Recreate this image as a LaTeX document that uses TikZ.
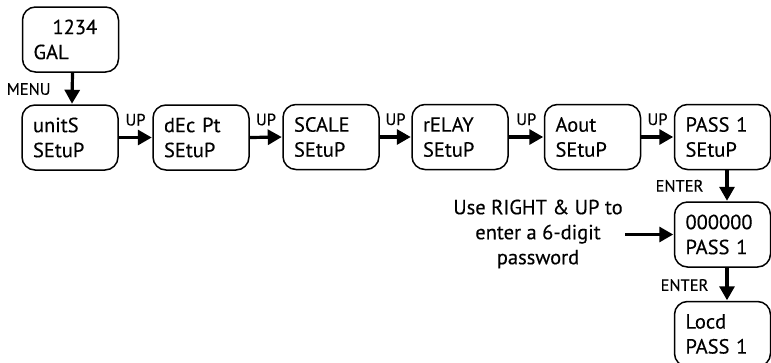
\documentclass[tikz,border=0pt]{standalone}
\usepackage{fontspec}
\setmainfont{PT Sans}[FakeBold=0.35]
\usetikzlibrary{arrows.meta}
\tikzset{
  disp/.style={draw=black, line width=1.5pt, rounded corners=13pt, minimum width=96pt, minimum height=65pt, text width=74pt, align=left, inner sep=0pt, font=\fontsize{20.5}{25}\selectfont},
  arr/.style={line width=3.2pt, -{Triangle[length=14pt,width=15pt]}, shorten >=0.5pt},
  lbl/.style={font=\fontsize{16.5}{18}\selectfont, inner sep=0pt}
}
\begin{document}
\begin{tikzpicture}[x=1pt,y=-1pt]
\useasboundingbox (0,0) rectangle (771,362);
\node[disp] (gal) at (70.5,39.5) {\hspace*{19pt}1234\\GAL};
\node[disp] (u) at (70,137.5) {unitS\\SEtuP};
\node[disp] (d) at (201,137.5) {dEc Pt\\SEtuP};
\node[disp] (s) at (331,137) {SCALE\\SEtuP};
\node[disp] (r) at (460,137) {rELAY\\SEtuP};
\node[disp] (a) at (592.5,137) {Aout\\SEtuP};
\node[disp] (p) at (722.5,137) {PASS 1\\SEtuP};
\node[disp] (pw) at (722.5,234.5) {000000\\PASS 1};
\node[disp] (lk) at (722.5,334) {Locd\\PASS 1};
\node[align=center, inner sep=0pt, font=\fontsize{20.5}{25}\selectfont] (txt) at (538,234) {Use RIGHT \& UP to\\enter a 6-digit\\password};
\coordinate (ts) at (625,234.5);
\draw[arr] ([xshift=2pt]gal.south) -- ([xshift=2pt]u.north) node[lbl, pos=0.7, anchor=base east, xshift=-20pt] {MENU};
\foreach \f/\t in {u/d, d/s, s/r, r/a, a/p}{
  \draw[arr] (\f.east) -- (\t.west) node[lbl, midway, anchor=base, yshift=12pt] {UP};
}
\draw[arr] ([xshift=4.5pt]p.south) -- ([xshift=4.5pt]pw.north) node[lbl, pos=0.69, anchor=base east, xshift=-22pt] {ENTER};
\draw[arr] ([xshift=4.5pt]pw.south) -- ([xshift=4.5pt]lk.north) node[lbl, pos=0.7, anchor=base east, xshift=-17pt] {ENTER};
\draw[arr] (ts) -- (pw.west);
\end{tikzpicture}
\end{document}
